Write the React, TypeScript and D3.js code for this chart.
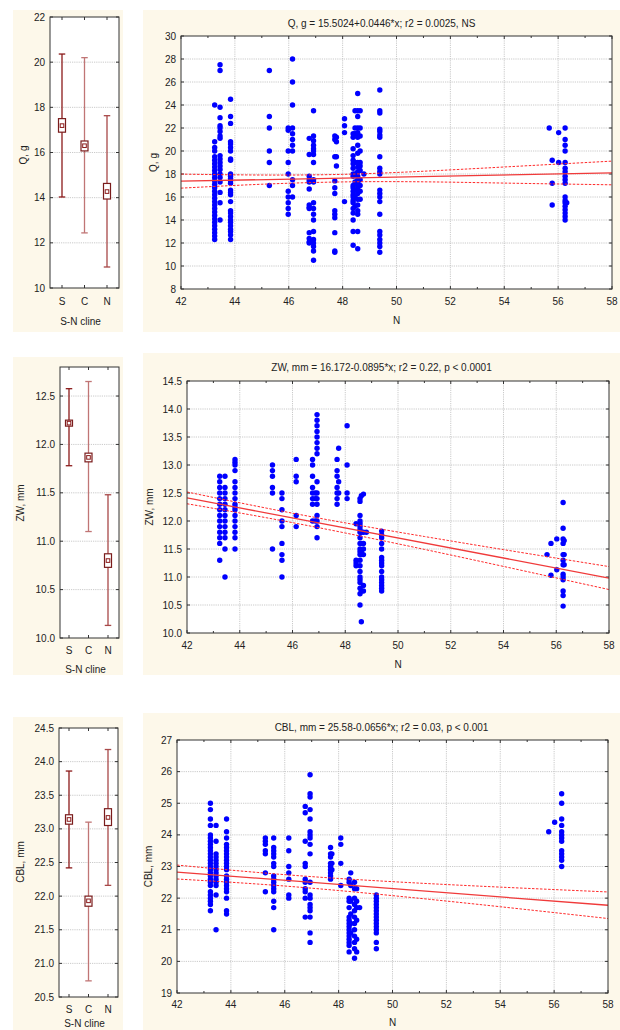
import React from "react";
import * as d3 from "d3";

const F = "'Liberation Sans', Arial, Helvetica, sans-serif";

// ---------- category (left) panels ----------
const catLabels = ["S", "C", "N"];
const catColors = ["#8b1a1a", "#c07575", "#a84848"];

const qMean = [17.19, 16.3, 14.27];
const qSeLo = [16.9, 16.07, 13.94];
const qSeHi = [17.5, 16.51, 14.63];
const qSdLo = [14.03, 12.44, 10.93];
const qSdHi = [20.36, 20.2, 17.63];

const zwMean = [12.22, 11.866, 10.8];
const zwSeLo = [12.195, 11.82, 10.73];
const zwSeHi = [12.25, 11.91, 10.87];
const zwSdLo = [11.78, 11.1, 10.13];
const zwSdHi = [12.576, 12.65, 11.48];

const cblMean = [23.14, 21.93, 23.17];
const cblSeLo = [23.07, 21.85, 23.05];
const cblSeHi = [23.21, 22.0, 23.3];
const cblSdLo = [22.42, 20.74, 22.16];
const cblSdHi = [23.86, 23.1, 24.18];

// ---------- scatter panels ----------
const xTicks = [42, 44, 46, 48, 50, 52, 54, 56, 58];
const ciLat = [42, 45, 48, 51, 54, 58];

const qLat = [43.25, 43.45, 43.84, 45.28, 45.98, 46.14, 46.76, 46.92, 47.71, 47.77, 48.07, 48.39, 48.46, 48.56, 48.65, 48.79, 49.38, 55.67, 55.78, 56.02, 56.26, 56.32];
const qVals = [
  [24.0, 20.8, 20.3, 20.0, 19.5, 19.2, 18.9, 18.6, 18.3, 18.0, 17.7, 17.4, 17.1, 16.8, 16.5, 16.2, 15.9, 15.6, 15.3, 15.0, 14.7, 14.4, 14.1, 13.8, 13.5, 13.2, 12.9, 12.6, 12.3],
  [27.5, 27.0, 23.8, 22.9, 22.2, 22.0, 21.7, 21.3, 21.1, 19.6, 19.3, 19.0, 18.7, 18.4, 18.0, 17.7, 17.3, 16.4, 15.5, 14.0],
  [24.5, 23.0, 22.4, 20.8, 20.6, 20.3, 20.0, 19.3, 19.2, 18.0, 17.8, 17.6, 17.4, 17.2, 16.6, 16.4, 16.2, 15.6, 14.8, 14.6, 14.3, 14.0, 13.8, 13.5, 13.2, 13.0, 12.7, 12.3],
  [27.0, 23.0, 22.0, 20.0, 19.0, 17.0],
  [22.0, 21.8, 20.0, 19.0, 18.0, 16.5, 16.0, 15.5, 15.0, 14.5],
  [28.0, 26.0, 24.0, 22.0, 21.5, 21.0, 20.5, 20.0, 17.5, 17.0, 16.0],
  [21.1, 19.7, 17.8, 17.5, 17.3, 16.7, 15.3, 15.1, 15.0, 12.9, 12.4, 12.1, 12.0],
  [23.5, 21.3, 20.9, 20.5, 20.2, 20.0, 19.7, 19.0, 17.5, 17.3, 15.5, 15.0, 14.5, 14.0, 13.0, 12.3, 12.0, 11.7, 11.3, 10.5],
  [21.3, 21.0, 19.5, 17.4, 16.8, 16.3, 14.8, 14.5, 14.2, 12.9, 11.3, 11.2],
  [21.2, 20.8, 19.5, 18.7],
  [22.8, 22.2, 21.6, 15.6],
  [21.5, 21.2, 20.2, 19.6, 19.2, 18.9, 18.5, 18.0, 17.8, 17.0, 16.8, 16.5, 16.2, 16.0, 15.7, 15.5, 15.0, 14.6, 14.0, 13.0, 11.8],
  [23.5, 22.0, 21.5, 19.0, 18.0, 17.3, 16.6, 16.0, 15.2],
  [25.0, 23.5, 23.0, 22.0, 21.6, 21.2, 20.5, 19.8, 19.0, 18.6, 18.2, 17.8, 17.5, 17.2, 17.0, 16.7, 16.3, 15.8, 15.3, 14.8, 14.5, 13.0, 11.5],
  [23.5, 22.0, 21.3, 20.0, 19.0, 18.7, 18.3, 17.5, 17.0, 16.5, 15.8],
  [18.0],
  [25.3, 23.5, 23.3, 21.9, 21.7, 21.4, 21.2, 19.5, 18.5, 18.2, 18.0, 16.6, 16.3, 16.0, 15.6, 14.5, 13.0, 12.7, 12.3, 12.0, 11.7, 11.2],
  [22.0],
  [19.2, 17.2, 15.3],
  [21.6, 19.0],
  [22.0, 21.0, 20.5, 20.0, 19.0, 18.5, 18.2, 17.8, 17.5, 17.2, 16.0, 15.7, 15.5, 15.2, 14.9, 14.6, 14.3, 14.0],
  [15.5],
];
const qCoef = [15.5024, 0.0446];
const qCiUp = [17.99, 17.91, 17.97, 18.24, 18.61, 19.12];
const qCiLo = [16.77, 17.11, 17.31, 17.32, 17.21, 17.06];
const qYTicks = [8, 10, 12, 14, 16, 18, 20, 22, 24, 26, 28, 30];

const zwLat = [43.24, 43.44, 43.82, 45.24, 45.6, 46.14, 46.76, 46.86, 46.93, 47.69, 47.75, 48.07, 48.41, 48.56, 48.61, 48.69, 48.8, 49.38, 55.65, 55.8, 56.02, 56.26, 56.3];
const zwVals = [
  [12.8, 12.7, 12.6, 12.5, 12.4, 12.3, 12.2, 12.1, 12.0, 11.9, 11.8, 11.7, 11.6, 11.3],
  [12.8, 12.6, 12.5, 12.4, 12.3, 12.2, 12.1, 12.0, 11.9, 11.8, 11.7, 11.5, 11.0],
  [13.1, 13.05, 13.0, 12.9, 12.7, 12.6, 12.5, 12.4, 12.3, 12.25, 12.2, 12.1, 12.0, 11.9, 11.8, 11.7, 11.5],
  [13.0, 12.9, 12.8, 12.6, 12.5, 11.5],
  [12.5, 12.4, 12.2, 12.0, 11.9, 11.6, 11.4, 11.3, 11.0],
  [13.1, 12.8, 12.7, 12.1, 11.9],
  [13.1, 13.0, 12.8, 12.6, 12.5, 12.4, 12.3, 12.0],
  [12.5, 12.4, 12.0],
  [13.9, 13.8, 13.7, 13.6, 13.5, 13.4, 13.3, 13.2, 12.7, 12.5, 12.4, 12.3, 12.1, 12.0, 11.9, 11.7],
  [13.1, 12.9, 12.8, 12.6, 12.5, 12.4, 12.3],
  [13.3, 12.7, 12.5],
  [13.7, 13.0, 12.5, 12.4],
  [11.95, 11.3, 11.25, 11.2],
  [12.4, 12.35, 12.1, 12.0, 11.95, 11.9, 11.85, 11.8, 11.7, 11.6, 11.5, 11.45, 11.4, 11.3, 11.2, 11.1, 11.0, 10.95, 10.9, 10.8, 10.7, 10.5],
  [12.45, 11.8, 11.6, 11.45, 11.4, 10.75, 10.2],
  [12.48, 11.8, 11.6, 11.5, 11.4, 10.85, 10.75],
  [11.8],
  [11.82, 11.75, 11.7, 11.6, 11.5, 11.35, 11.3, 11.25, 11.2, 11.1, 11.0, 10.95, 10.9, 10.85, 10.8, 10.75],
  [11.4],
  [11.6, 11.03],
  [11.68, 11.13],
  [12.33, 11.87, 11.68, 11.6, 11.4, 11.3, 11.22, 11.05, 11.0, 10.95, 10.75, 10.67, 10.48],
  [11.65, 11.4, 11.22],
];
const zwCoef = [16.172, -0.0895];
const zwCiUp = [12.518, 12.231, 11.966, 11.723, 11.489, 11.186];
const zwCiLo = [12.308, 12.059, 11.786, 11.493, 11.189, 10.776];
const zwYTicks = [10.0, 10.5, 11.0, 11.5, 12.0, 12.5, 13.0, 13.5, 14.0, 14.5];

const cblLat = [43.24, 43.45, 43.84, 45.28, 45.59, 46.15, 46.76, 46.94, 47.7, 47.75, 48.08, 48.39, 48.45, 48.59, 48.67, 48.78, 49.4, 55.8, 56.02, 56.28];
const cblVals = [
  [25.0, 24.8, 24.5, 24.3, 24.0, 23.9, 23.8, 23.7, 23.6, 23.5, 23.4, 23.3, 23.2, 23.1, 23.0, 22.9, 22.8, 22.7, 22.6, 22.5, 22.4, 22.2, 22.1, 22.0, 21.9, 21.8, 21.6],
  [24.3, 23.8, 23.4, 23.3, 23.2, 23.1, 23.0, 22.9, 22.8, 22.7, 22.6, 22.5, 22.4, 22.1, 21.0],
  [24.5, 24.1, 23.9, 23.7, 23.6, 23.5, 23.4, 23.3, 23.2, 23.1, 23.0, 22.9, 22.7, 22.6, 22.5, 22.4, 22.3, 22.2, 22.0, 21.6, 21.5],
  [23.9, 23.8, 23.7, 23.5, 23.4, 22.8, 22.2],
  [23.9, 23.6, 23.5, 23.4, 23.3, 23.1, 23.0, 22.7, 22.6, 22.5, 22.4, 22.3, 22.2, 21.9, 21.7, 21.0],
  [23.9, 23.5, 23.0, 22.8, 22.6, 22.1, 22.0],
  [24.9, 24.7, 23.8, 23.1, 23.0, 22.6, 22.5, 22.3, 22.2, 22.0, 21.4],
  [25.9, 25.3, 25.2, 24.8, 24.5, 24.1, 24.0, 23.9, 23.7, 23.4, 22.5, 22.1, 22.0, 21.8, 21.7, 21.6, 21.4, 20.9, 20.6],
  [23.6, 23.4, 23.3, 23.1, 23.0, 22.9, 22.8, 22.7, 22.6],
  [23.4, 23.1, 22.9],
  [23.9, 23.7, 23.1, 22.4],
  [22.6, 22.5, 22.0, 21.9, 21.7, 21.4, 21.3, 21.2, 21.1, 21.0, 20.9, 20.8, 20.7, 20.6, 20.5, 20.3],
  [22.8, 22.4, 21.9, 21.5, 21.2, 20.9],
  [22.5, 22.3, 22.0, 21.8, 21.6, 21.4, 21.2, 21.0, 20.8, 20.6, 20.4, 20.1],
  [22.3, 21.9, 21.7, 21.3, 20.7, 20.3],
  [21.7],
  [22.1, 22.0, 21.9, 21.8, 21.7, 21.6, 21.5, 21.4, 21.3, 21.2, 21.1, 21.0, 20.9, 20.6, 20.4],
  [24.1],
  [24.4],
  [25.3, 25.0, 24.5, 24.3, 24.1, 24.0, 23.9, 23.8, 23.5, 23.4, 23.3, 23.2, 23.0],
];
const cblCoef = [25.58, -0.0656];
const cblCiUp = [23.045, 22.811, 22.622, 22.474, 22.348, 22.195];
const cblCiLo = [22.605, 22.445, 22.24, 21.994, 21.728, 21.355];
const cblYTicks = [19, 20, 21, 22, 23, 24, 25, 26, 27];

// ---------- components ----------
type Box = { x: number; y: number; w: number; h: number };
type Plot = { l: number; t: number; r: number; b: number };

function CatPanel(props: {
  bg: Box; plot: Plot; catRange: [number, number]; yDomain: [number, number]; yTicks: number[]; fmt: (v: number) => string;
  mean: number[]; seLo: number[]; seHi: number[]; sdLo: number[]; sdHi: number[];
  ylabel: string; ylabelX: number; ylabelY: number; xLabelY: number; catLabelY: number;
}) {
  const { bg, plot } = props;
  const y = d3.scaleLinear().domain(props.yDomain).range([plot.b, plot.t]);
  const x = d3.scalePoint<string>().domain(catLabels).range(props.catRange);
  return (
    <g>
      <rect x={bg.x} y={bg.y} width={bg.w} height={bg.h} fill="#fdf8ea" />
      <rect x={plot.l} y={plot.t} width={plot.r - plot.l} height={plot.b - plot.t} fill="#fff" />
      {props.yTicks.map((t) => (
        <g key={t}>
          {y(t) > plot.t + 1 && y(t) < plot.b - 1 && (
            <line x1={plot.l} x2={plot.r} y1={y(t)} y2={y(t)} stroke="#bdbdbd" strokeWidth={0.8} strokeDasharray="1.2,1" />
          )}
          <line x1={plot.l} x2={plot.l + 3} y1={y(t)} y2={y(t)} stroke="#333" />
          <line x1={plot.r - 3} x2={plot.r} y1={y(t)} y2={y(t)} stroke="#333" />
          <text x={plot.l - 5} y={y(t)} dy="0.35em" textAnchor="end" fontFamily={F} fontSize={10} fill="#222">{props.fmt(t)}</text>
        </g>
      ))}
      {catLabels.map((c, i) => {
        const cx = x(c) as number;
        const col = catColors[i];
        const bw = 7, cw = 6.5;
        return (
          <g key={c}>
            <line x1={cx} x2={cx} y1={plot.b} y2={plot.b - 3} stroke="#333" />
            <line x1={cx} x2={cx} y1={plot.t} y2={plot.t + 3} stroke="#333" />
            <line x1={cx} x2={cx} y1={y(props.sdLo[i])} y2={y(props.sdHi[i])} stroke={col} strokeWidth={1.3} />
            <line x1={cx - cw / 2} x2={cx + cw / 2} y1={y(props.sdLo[i])} y2={y(props.sdLo[i])} stroke={col} strokeWidth={1.3} />
            <line x1={cx - cw / 2} x2={cx + cw / 2} y1={y(props.sdHi[i])} y2={y(props.sdHi[i])} stroke={col} strokeWidth={1.3} />
            <rect x={cx - bw / 2} y={Math.min(y(props.seHi[i]), y(props.mean[i]) - 3)} width={bw}
              height={Math.max(y(props.seLo[i]) - y(props.seHi[i]), 6)} fill="#fff" stroke="#7a1c1c" strokeWidth={1.2} />
            <rect x={cx - 1.8} y={y(props.mean[i]) - 1.8} width={3.6} height={3.6} fill="#fff" stroke="#8b1a1a" strokeWidth={1} />
            <text x={cx} y={props.catLabelY} dy="0.35em" textAnchor="middle" fontFamily={F} fontSize={10} fill="#222">{c}</text>
          </g>
        );
      })}
      <rect x={plot.l} y={plot.t} width={plot.r - plot.l} height={plot.b - plot.t} fill="none" stroke="#333" strokeWidth={1} />
      <text x={(plot.l + plot.r) / 2 - 4} y={props.xLabelY} dy="0.35em" textAnchor="middle" fontFamily={F} fontSize={10} fill="#222">S-N cline</text>
      <text transform={`translate(${props.ylabelX},${props.ylabelY}) rotate(-90)`} textAnchor="middle" dy="0.35em" fontFamily={F} fontSize={10} fill="#222">{props.ylabel}</text>
    </g>
  );
}

function ScatterPanel(props: {
  bg: Box; plot: Plot; yDomain: [number, number]; yTicks: number[]; fmt: (v: number) => string;
  title: string; titleY: number; ylabel: string; ylabelX: number; xTickY: number; nLabelY: number;
  lat: number[]; vals: number[][]; coef: number[]; ciUp: number[]; ciLo: number[];
}) {
  const { bg, plot } = props;
  const x = d3.scaleLinear().domain([42, 58]).range([plot.l, plot.r]);
  const y = d3.scaleLinear().domain(props.yDomain).range([plot.b, plot.t]);
  const minor = d3.range(43, 58, 2);
  const pts: [number, number][] = [];
  props.lat.forEach((lx, i) => props.vals[i].forEach((v) => pts.push([lx, v])));
  const regLine = d3.line<number>().x((d) => x(d)).y((d) => y(props.coef[0] + props.coef[1] * d));
  const ciLine = d3.line<[number, number]>().x((d) => x(d[0])).y((d) => y(d[1])).curve(d3.curveNatural);
  const up = ciLat.map((lx, i) => [lx, props.ciUp[i]] as [number, number]);
  const lo = ciLat.map((lx, i) => [lx, props.ciLo[i]] as [number, number]);
  const ylab = (props.yDomain[0] + props.yDomain[1]) / 2;
  return (
    <g>
      <rect x={bg.x} y={bg.y} width={bg.w} height={bg.h} fill="#fdf8ea" />
      <rect x={plot.l} y={plot.t} width={plot.r - plot.l} height={plot.b - plot.t} fill="#fff" />
      <defs>
        <clipPath id={`clip${plot.t}`}>
          <rect x={plot.l} y={plot.t} width={plot.r - plot.l} height={plot.b - plot.t} />
        </clipPath>
      </defs>
      {props.yTicks.map((t) => (
        <g key={t}>
          {y(t) > plot.t + 1 && y(t) < plot.b - 1 && (
            <line x1={plot.l} x2={plot.r} y1={y(t)} y2={y(t)} stroke="#bdbdbd" strokeWidth={0.8} strokeDasharray="1.2,1" />
          )}
          <line x1={plot.l} x2={plot.l + 3} y1={y(t)} y2={y(t)} stroke="#333" />
          <line x1={plot.r - 3} x2={plot.r} y1={y(t)} y2={y(t)} stroke="#333" />
          <text x={plot.l - 5} y={y(t)} dy="0.35em" textAnchor="end" fontFamily={F} fontSize={10} fill="#222">{props.fmt(t)}</text>
        </g>
      ))}
      {xTicks.map((t) => (
        <g key={t}>
          {x(t) > plot.l + 1 && x(t) < plot.r - 1 && (
            <line x1={x(t)} x2={x(t)} y1={plot.t} y2={plot.b} stroke="#bdbdbd" strokeWidth={0.8} strokeDasharray="1.2,1" />
          )}
          <line x1={x(t)} x2={x(t)} y1={plot.b} y2={plot.b - 3} stroke="#333" />
          <line x1={x(t)} x2={x(t)} y1={plot.t} y2={plot.t + 3} stroke="#333" />
          <text x={x(t)} y={props.xTickY} dy="0.35em" textAnchor="middle" fontFamily={F} fontSize={10} fill="#222">{t}</text>
        </g>
      ))}
      {minor.map((t) => (
        <g key={"m" + t}>
          <line x1={x(t)} x2={x(t)} y1={plot.b} y2={plot.b - 2} stroke="#333" />
          <line x1={x(t)} x2={x(t)} y1={plot.t} y2={plot.t + 2} stroke="#333" />
        </g>
      ))}
      <g clipPath={`url(#clip${plot.t})`}>
        {pts.map((p, i) => (
          <circle key={i} cx={x(p[0])} cy={y(p[1])} r={2.7} fill="#0000ff" />
        ))}
        <path d={regLine([42, 58]) || ""} fill="none" stroke="#f03a3a" strokeWidth={1.3} />
        <path d={ciLine(up) || ""} fill="none" stroke="#ff2a2a" strokeWidth={1} strokeDasharray="2.5,1.5" />
        <path d={ciLine(lo) || ""} fill="none" stroke="#ff2a2a" strokeWidth={1} strokeDasharray="2.5,1.5" />
      </g>
      <rect x={plot.l} y={plot.t} width={plot.r - plot.l} height={plot.b - plot.t} fill="none" stroke="#333" strokeWidth={1} />
      <text x={bg.x + bg.w / 2} y={props.titleY} dy="0.35em" textAnchor="middle" fontFamily={F} fontSize={10} fill="#222">{props.title}</text>
      <text x={(plot.l + plot.r) / 2} y={props.nLabelY} dy="0.35em" textAnchor="middle" fontFamily={F} fontSize={10} fill="#222">N</text>
      <text transform={`translate(${props.ylabelX},${y(ylab)}) rotate(-90)`} textAnchor="middle" dy="0.35em" fontFamily={F} fontSize={10} fill="#222">{props.ylabel}</text>
    </g>
  );
}

const f0 = (v: number) => d3.format("d")(v);
const f1 = (v: number) => d3.format(".1f")(v);

export default function App() {
  return (
    <svg width={620} height={1030} style={{ position: "absolute", left: 0, top: 0, background: "#fff" }}>
      <CatPanel bg={{ x: 13, y: 10, w: 110, h: 322 }} plot={{ l: 50, t: 17, r: 119, b: 288 }} catRange={[62, 107]}
        yDomain={[10, 22]} yTicks={[10, 12, 14, 16, 18, 20, 22]} fmt={f0}
        mean={qMean} seLo={qSeLo} seHi={qSeHi} sdLo={qSdLo} sdHi={qSdHi}
        ylabel="Q, g" ylabelX={23} ylabelY={155} xLabelY={321} catLabelY={301} />
      <ScatterPanel bg={{ x: 143, y: 10, w: 477, h: 322 }} plot={{ l: 181, t: 36, r: 612, b: 289 }}
        yDomain={[8, 30]} yTicks={qYTicks} fmt={f0}
        title="Q, g = 15.5024+0.0446*x; r2 = 0.0025, NS" titleY={23} ylabel="Q, g" ylabelX={153} xTickY={301} nLabelY={320}
        lat={qLat} vals={qVals} coef={qCoef} ciUp={qCiUp} ciLo={qCiLo} />

      <CatPanel bg={{ x: 13, y: 357, w: 110, h: 318 }} plot={{ l: 60, t: 367, r: 119, b: 638 }} catRange={[69, 108]}
        yDomain={[10, 12.8]} yTicks={[10, 10.5, 11, 11.5, 12, 12.5]} fmt={f1}
        mean={zwMean} seLo={zwSeLo} seHi={zwSeHi} sdLo={zwSdLo} sdHi={zwSdHi}
        ylabel="ZW, mm" ylabelX={20} ylabelY={503} xLabelY={669} catLabelY={650} />
      <ScatterPanel bg={{ x: 143, y: 353, w: 477, h: 322 }} plot={{ l: 187, t: 381, r: 609, b: 633 }}
        yDomain={[10, 14.5]} yTicks={zwYTicks} fmt={f1}
        title="ZW, mm = 16.172-0.0895*x; r2 = 0.22, p < 0.0001" titleY={367} ylabel="ZW, mm" ylabelX={149} xTickY={645} nLabelY={664}
        lat={zwLat} vals={zwVals} coef={zwCoef} ciUp={zwCiUp} ciLo={zwCiLo} />

      <CatPanel bg={{ x: 13, y: 717, w: 110, h: 313 }} plot={{ l: 59, t: 728, r: 118, b: 997 }} catRange={[69, 108]}
        yDomain={[20.5, 24.5]} yTicks={[20.5, 21, 21.5, 22, 22.5, 23, 23.5, 24, 24.5]} fmt={f1}
        mean={cblMean} seLo={cblSeLo} seHi={cblSeHi} sdLo={cblSdLo} sdHi={cblSdHi}
        ylabel="CBL, mm" ylabelX={20} ylabelY={862} xLabelY={1023} catLabelY={1009} />
      <ScatterPanel bg={{ x: 143, y: 713, w: 477, h: 317 }} plot={{ l: 177, t: 740, r: 608, b: 993 }}
        yDomain={[19, 27]} yTicks={cblYTicks} fmt={f0}
        title="CBL, mm = 25.58-0.0656*x; r2 = 0.03, p < 0.001" titleY={727} ylabel="CBL, mm" ylabelX={148} xTickY={1004} nLabelY={1022}
        lat={cblLat} vals={cblVals} coef={cblCoef} ciUp={cblCiUp} ciLo={cblCiLo} />
    </svg>
  );
}
